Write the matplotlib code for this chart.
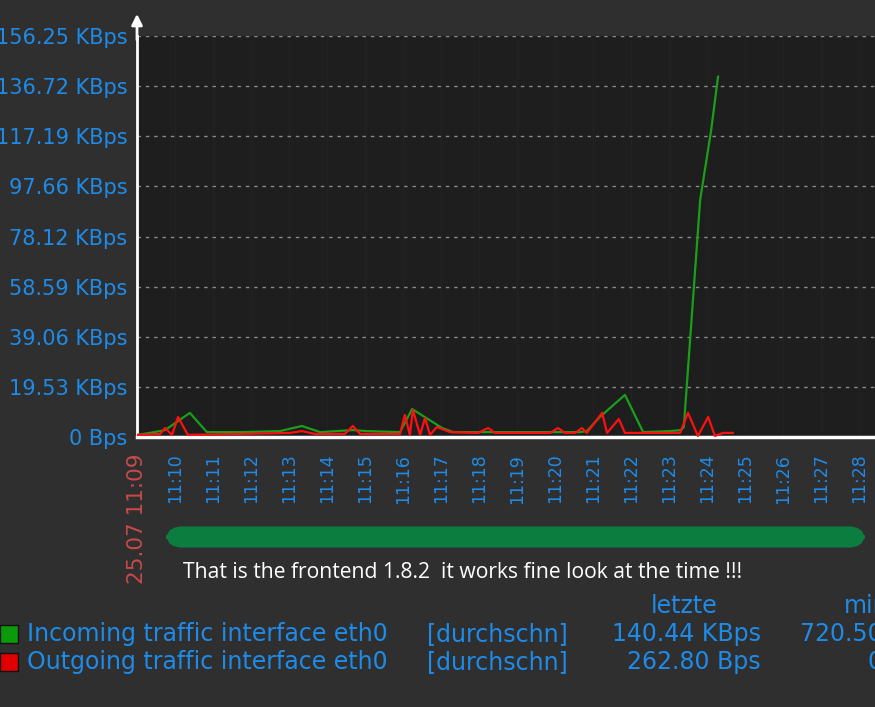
import matplotlib
matplotlib.use("Agg")
import matplotlib.pyplot as plt
from matplotlib.patches import FancyBboxPatch, Rectangle

# ---- data (minutes since 11:09, KBps) ----
in_t = [0.00, 0.34, 0.74, 1.39, 1.84, 2.71, 3.76, 4.34, 4.82, 5.68, 6.05, 6.92,
        7.24, 8.03, 8.32, 11.66, 11.84, 12.18, 12.84, 13.32, 14.03, 14.32, 14.39,
        14.82, 15.11, 15.29]
in_v = [0.8, 1.6, 2.7, 9.4, 1.9, 1.9, 2.3, 4.3, 1.9, 2.7, 2.3, 1.9,
        10.9, 3.5, 1.9, 1.9, 2.3, 7.8, 16.4, 1.9, 2.3, 2.7, 3.9,
        92.4, 119.6, 140.4]

out_t = [0.00, 0.61, 0.74, 0.92, 1.08, 1.34, 2.71, 4.03, 4.34, 4.68, 5.47, 5.68,
         5.87, 6.92, 7.05, 7.18, 7.26, 7.45, 7.58, 7.71, 7.89, 8.24, 8.97, 9.24,
         9.42, 10.87, 11.08, 11.26, 11.53, 11.71, 11.84, 12.24, 12.37, 12.68, 12.84,
         14.29, 14.50, 14.76, 15.03, 15.21, 15.42, 15.68]
out_v = [0.8, 1.2, 3.5, 0.8, 7.8, 0.8, 1.2, 1.6, 2.3, 1.2, 1.2, 4.3,
         1.2, 1.2, 8.6, 0.8, 10.5, 0.8, 7.4, 0.8, 3.9, 1.9, 1.6, 3.5,
         1.6, 1.6, 3.5, 1.6, 1.6, 3.5, 1.6, 9.4, 1.6, 7.0, 1.6,
         1.6, 9.4, 0.4, 7.8, 0.4, 1.6, 1.6]

y_ticks = [0, 19.53, 39.06, 58.59, 78.12, 97.66, 117.19, 136.72, 156.25]
y_labels = ["0 Bps", "19.53 KBps", "39.06 KBps", "58.59 KBps", "78.12 KBps",
            "97.66 KBps", "117.19 KBps", "136.72 KBps", "156.25 KBps"]
x_labels = ["25.07 11:09", "11:10", "11:11", "11:12", "11:13", "11:14", "11:15",
            "11:16", "11:17", "11:18", "11:19", "11:20", "11:21", "11:22",
            "11:23", "11:24", "11:25", "11:26", "11:27", "11:28"]

legend_names = ["Incoming traffic interface eth0", "Outgoing traffic interface eth0"]
legend_func = ["[durchschn]", "[durchschn]"]
legend_last = ["140.44 KBps", "262.80 Bps"]
legend_min = ["720.50 Bps", "0 Bps"]

BLUE = "#1f8be8"
W, H = 875, 707

fig = plt.figure(figsize=(W / 100, H / 100), dpi=100, facecolor="#2f2f2f")

def fx(px):
    return px / W

def fy(py):
    return 1 - py / H

ax = fig.add_axes([fx(137), fy(437), fx(875) - fx(137), (437 - 36) / H])
ax.set_facecolor("#1e1e1e")
ax.plot(in_t, in_v, color="#18a018", lw=1.6, zorder=3)
ax.plot(out_t, out_v, color="#ff1010", lw=1.6, zorder=4)

ax.set_xlim(0, 738 / 38.0)
ax.set_ylim(0, 156.25)
ax.set_yticks(y_ticks)
ax.set_yticklabels(y_labels, color=BLUE, fontsize=15)
ax.set_xticks(range(len(x_labels)))
ax.set_xticklabels(x_labels, rotation=90, color=BLUE, fontsize=12.5, va="top")
xl = ax.get_xticklabels()
xl[0].set_color("#c84a4a")
xl[0].set_fontsize(15.5)
ax.tick_params(axis="both", length=0)
ax.tick_params(axis="y", pad=7)
ax.tick_params(axis="x", pad=12)

for yv in y_ticks[1:]:
    ax.axhline(yv, color="#8a8a8a", lw=1, ls=(0, (2.5, 3.5)), zorder=1)
for i in range(len(x_labels)):
    ax.axvline(i, color="#222222", lw=1, zorder=0.5)

for s in ["top", "right"]:
    ax.spines[s].set_visible(False)
ax.spines["left"].set_color("white")
ax.spines["left"].set_linewidth(2)
ax.spines["bottom"].set_color("white")
ax.spines["bottom"].set_linewidth(2.5)
ax.annotate("", xy=(0, 1.055), xytext=(0, 0.99), xycoords="axes fraction",
            arrowprops=dict(arrowstyle="-|>", color="white", lw=2, mutation_scale=16,
                            shrinkA=0, shrinkB=0), annotation_clip=False)

# green bar
bar = FancyBboxPatch((fx(172), fy(542)), fx(868 - 172 - 9), (542 - 532) / H,
                     boxstyle="round,pad=0.0,rounding_size=0.012",
                     transform=fig.transFigure, facecolor="#0b7d3e", edgecolor="#0b7d3e",
                     lw=8, mutation_aspect=H / W)
fig.patches.append(bar)

fig.text(fx(183), fy(572), "That is the frontend 1.8.2  it works fine look at the time !!!",
         color="white", fontsize=15.2, family="Open Sans", va="center", ha="left")

# legend table
LFS = 17
fig.text(fx(684), fy(606), "letzte", color=BLUE, fontsize=LFS, ha="center", va="center")
fig.text(fx(866), fy(606), "min", color=BLUE, fontsize=LFS, ha="center", va="center")
row_y = [634, 662]
sq_colors = ["#0a9a0a", "#e00000"]
for i in range(2):
    fig.patches.append(Rectangle((fx(0), fy(row_y[i] + 9)), fx(18), 18 / H,
                                 transform=fig.transFigure, facecolor=sq_colors[i],
                                 edgecolor="#111111", lw=1))
    fig.text(fx(27), fy(row_y[i]), legend_names[i], color=BLUE, fontsize=LFS,
             ha="left", va="center")
    fig.text(fx(427), fy(row_y[i]), legend_func[i], color=BLUE, fontsize=LFS,
             ha="left", va="center")
    fig.text(fx(761), fy(row_y[i]), legend_last[i], color=BLUE, fontsize=LFS,
             ha="right", va="center")
    fig.text(fx(934), fy(row_y[i]), legend_min[i], color=BLUE, fontsize=LFS,
             ha="right", va="center")

fig.savefig("out.png", dpi=100, facecolor=fig.get_facecolor())
